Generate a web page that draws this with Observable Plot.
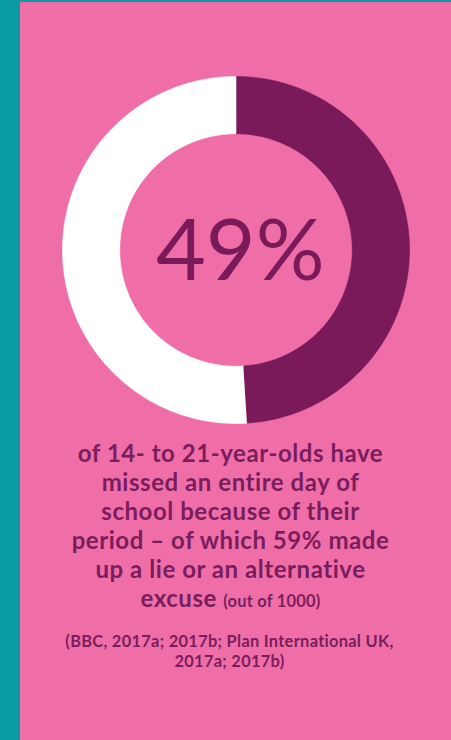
<!DOCTYPE html>
<html>
<head>
<meta charset="utf-8">
<script src="https://cdn.jsdelivr.net/npm/d3@7"></script>
<script src="https://cdn.jsdelivr.net/npm/@observablehq/plot@0.6"></script>
<style>
  html, body { margin: 0; padding: 0; }
  body { width: 451px; height: 740px; background: #0a9ba7; position: relative; overflow: hidden; }
  #panel { position: absolute; left: 20px; top: 2px; width: 431px; height: 738px; background: #f06ea8; }
  #chart { position: absolute; left: 0; top: 0; }
  #caption { position: absolute; left: 0; top: 436px; width: 421px; text-align: center;
    font-family: Lato, "Open Sans", sans-serif; font-weight: 700; color: #7a1d5d;
    font-size: 24px; line-height: 29px; letter-spacing: 0.55px; white-space: nowrap; }
  #caption .small { font-size: 16.5px; letter-spacing: 0.2px; }
  #source { position: absolute; left: 0; top: 629px; width: 419px; text-align: center;
    font-family: Lato, "Open Sans", sans-serif; font-weight: 700; color: #7a1d5d;
    font-size: 16.4px; line-height: 20px; letter-spacing: 0.3px; white-space: nowrap; }
</style>
</head>
<body>
<div id="panel">
  <div id="chart"></div>
  <div id="caption"></div>
  <div id="source"></div>
</div>
<script>
// ---- data ----
const categories = ["Missed an entire day of school", "Did not"];
const values = [49, 51];
const colors = ["#7a1a5b", "#ffffff"];
const centerLabel = ["49%"];
const captionLines = [
  "of 14- to 21-year-olds have",
  "missed an entire day of",
  "school because of their",
  "period – of which 59% made",
  "up a lie or an alternative",
  "excuse"
];
const captionNote = "(out of 1000)";
const sourceLines = ["(BBC, 2017a; 2017b; Plan International UK,", "2017a; 2017b)"];

// ---- build ring polygons from the data ----
const innerR = 0.67, outerR = 1;
const slices = d3.pie().sort(null).value(d => d.value)(categories.map((c, i) => ({cat: c, value: values[i]})));
const pts = [];
slices.forEach(s => {
  const n = 120;
  for (let k = 0; k <= n; k++) {
    const a = s.startAngle + (s.endAngle - s.startAngle) * k / n;
    pts.push({cat: s.data.cat, x: outerR * Math.sin(a), y: outerR * Math.cos(a)});
  }
  for (let k = n; k >= 0; k--) {
    const a = s.startAngle + (s.endAngle - s.startAngle) * k / n;
    pts.push({cat: s.data.cat, x: innerR * Math.sin(a), y: innerR * Math.cos(a)});
  }
});

const W = 431, H = 440;
const chart = Plot.plot({
  width: W,
  height: H,
  marginLeft: 42, marginRight: 42, marginTop: 74, marginBottom: 19,
  x: {domain: [-1, 1], axis: null},
  y: {domain: [-1, 1], axis: null},
  color: {domain: categories, range: colors},
  style: {background: "transparent", overflow: "visible"},
  marks: [
    Plot.line(pts, {x: "x", y: "y", z: "cat", fill: "cat", stroke: "cat", strokeWidth: 0.6, curve: "linear"}),
    Plot.text(centerLabel, {x: () => 0.025, y: () => 0, text: d => d, fontSize: 86, fontWeight: 400,
      fontFamily: "Lato, 'Open Sans', sans-serif", fill: "#7a1a5b", textAnchor: "middle", lineAnchor: "middle", dy: 2})
  ]
});
document.getElementById("chart").appendChild(chart);

const cap = document.getElementById("caption");
cap.innerHTML = captionLines.map((l, i) => i === captionLines.length - 1
  ? `${l} <span class="small">${captionNote}</span>` : l).join("<br>");
document.getElementById("source").innerHTML = sourceLines.join("<br>");
</script>
</body>
</html>
